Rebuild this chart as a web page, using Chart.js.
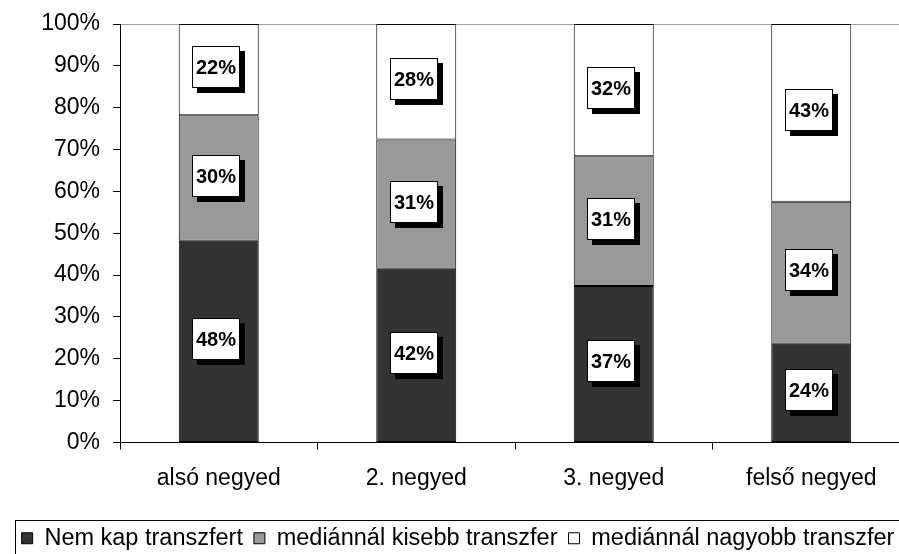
<!DOCTYPE html>
<html>
<head>
<meta charset="utf-8">
<script src="https://cdn.jsdelivr.net/npm/chart.js@4/dist/chart.umd.min.js"></script>
<style>
  html, body { margin: 0; padding: 0; background: #ffffff; overflow: hidden; }
  #wrap { position: relative; width: 917px; height: 565px; }
</style>
</head>
<body>
<div id="wrap"><canvas id="chart"></canvas></div>
<script>
// Income quarters and the share of households by transfer group (percent)
const categories = ['alsó negyed', '2. negyed', '3. negyed', 'felső negyed'];
const nemKap = [48.2, 41.5, 37.4, 23.6];
const kisebb = [30.0, 30.9, 31.0, 33.9];
const nagyobb = [21.8, 27.6, 31.6, 42.5];
const seriesNames = ['Nem kap transzfert', 'mediánnál kisebb transzfer', 'mediánnál nagyobb transzfer'];
const yTicks = [0, 10, 20, 30, 40, 50, 60, 70, 80, 90, 100];

const FONT = "'Liberation Sans', Arial, sans-serif";

// White boxes with a drop shadow holding each segment's rounded value
const valueBoxes = {
  id: 'valueBoxes',
  afterDatasetsDraw(chart) {
    const ctx = chart.ctx;
    const w = 48, h = 42, sh = 5;
    ctx.save();
    chart.data.datasets.forEach((ds, i) => {
      const meta = chart.getDatasetMeta(i);
      meta.data.forEach((bar, j) => {
        const cx = bar.x;
        const cy = (bar.y + bar.base) / 2;
        const left = Math.round(cx - (w + sh) / 2);
        const top = Math.round(cy - (h + sh) / 2);
        ctx.fillStyle = '#000000';
        ctx.fillRect(left + sh, top + sh, w, h);
        ctx.fillStyle = '#ffffff';
        ctx.fillRect(left, top, w, h);
        ctx.strokeStyle = '#000000';
        ctx.lineWidth = 1;
        ctx.strokeRect(left + 0.5, top + 0.5, w - 1, h - 1);
        ctx.fillStyle = '#000000';
        ctx.font = 'bold 20px ' + FONT;
        ctx.textAlign = 'center';
        ctx.textBaseline = 'middle';
        ctx.fillText(Math.round(ds.data[j]) + '%', left + w / 2, top + h / 2 + 1);
      });
    });
    ctx.restore();
  }
};

// Frame around the legend row
const legendFrame = {
  id: 'legendFrame',
  afterDraw(chart) {
    const lg = chart.legend;
    if (!lg || !lg.legendHitBoxes || !lg.legendHitBoxes.length) return;
    const boxes = lg.legendHitBoxes;
    const first = boxes[0];
    const last = boxes[boxes.length - 1];
    const ctx = chart.ctx;
    const x1 = Math.round(first.left - 7) + 0.5;
    const x2 = Math.round(last.left + last.width + 7) + 0.5;
    const y1 = Math.round(lg.top + 4) + 0.5;
    const y2 = Math.round(lg.bottom + 4) + 0.5;
    ctx.save();
    ctx.strokeStyle = '#000000';
    ctx.lineWidth = 1;
    ctx.strokeRect(x1, y1, x2 - x1, y2 - y1);
    ctx.restore();
  }
};

const colors = ['#333333', '#999999', '#ffffff'];
const values = [nemKap, kisebb, nagyobb];

new Chart(document.getElementById('chart'), {
  type: 'bar',
  data: {
    labels: categories,
    datasets: seriesNames.map((name, i) => ({
      label: name,
      data: values[i],
      backgroundColor: colors[i],
      borderColor: '#000000',
      borderWidth: 1,
      borderSkipped: false,
      categoryPercentage: 1.0,
      barPercentage: 0.405
    }))
  },
  options: {
    responsive: true,
    maintainAspectRatio: false,
    animation: false,
    layout: { padding: { top: 24, right: 7, bottom: 5, left: 6 } },
    plugins: {
      tooltip: { enabled: false },
      legend: {
        position: 'bottom',
        labels: {
          color: '#000000',
          font: { family: FONT, size: 23.5 },
          boxWidth: 11,
          boxHeight: 11,
          padding: 11,
          generateLabels(chart) {
            return chart.data.datasets.map((ds, i) => ({
              text: ds.label,
              fillStyle: ds.backgroundColor,
              strokeStyle: '#000000',
              lineWidth: 1,
              hidden: false,
              datasetIndex: i
            }));
          }
        }
      }
    },
    scales: {
      x: {
        stacked: true,
        border: { color: '#000000', width: 1 },
        grid: {
          offset: true,
          drawOnChartArea: false,
          drawTicks: true,
          tickLength: 7,
          tickColor: '#000000'
        },
        ticks: {
          color: '#000000',
          font: { family: FONT, size: 23 },
          padding: 15,
          maxRotation: 0
        },
        afterFit(scale) { scale.height = 73; }
      },
      y: {
        stacked: true,
        min: 0,
        max: 100,
        border: { color: '#000000', width: 1 },
        grid: {
          drawTicks: true,
          tickLength: 7,
          tickColor: '#000000',
          color(ctx) { return ctx.tick && ctx.tick.value === 100 ? '#a0a0a0' : 'rgba(0,0,0,0)'; }
        },
        afterBuildTicks(scale) { scale.ticks = yTicks.map(v => ({ value: v })); },
        ticks: {
          color: '#000000',
          font: { family: FONT, size: 23 },
          padding: 13,
          callback: (v) => v + '%'
        },
        afterFit(scale) {
          scale.width = 114;
          scale.paddingTop = 0;
          scale.paddingBottom = 0;
        }
      }
    }
  },
  plugins: [valueBoxes, legendFrame]
});
</script>
</body>
</html>
